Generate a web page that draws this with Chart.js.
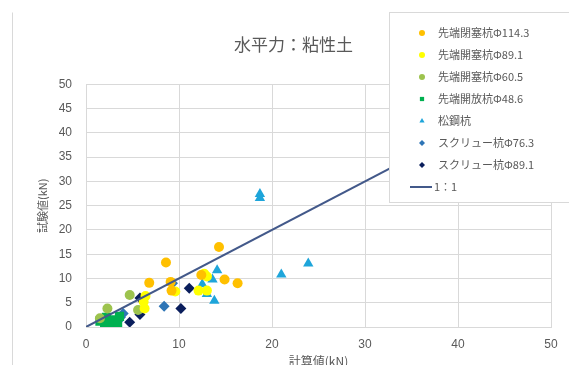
<!DOCTYPE html>
<html>
<head>
<meta charset="utf-8">
<script src="https://cdn.jsdelivr.net/npm/chart.js@4/dist/chart.umd.min.js"></script>
<style>
  html, body { margin: 0; padding: 0; background: #ffffff; }
  #wrap { position: relative; width: 569px; height: 365px; }
</style>
</head>
<body>
<div id="wrap"><canvas id="c" width="569" height="365"></canvas></div>
<script>
// Horizontal load on cohesive soil: calculated vs. measured capacity (kN)
const chartTitle = '水平力：粘性土';
const xTitle = '計算値(kN)';
const yTitle = '試験値(kN)';

const seriesNames = [
  '先端閉塞杭Φ114.3',
  '先端開塞杭Φ89.1',
  '先端開塞杭Φ60.5',
  '先端開放杭Φ48.6',
  '松鋼杭',
  'スクリュー杭Φ76.3',
  'スクリュー杭Φ89.1'
];
const lineName = '1：1';

const closed114X = [14.3, 8.6, 6.8, 16.3, 14.9, 12.4, 9.1, 9.2];
const closed114Y = [16.5, 13.3, 9.1, 9.0, 9.8, 10.7, 9.3, 7.5];

const open89X = [13.0, 12.7, 12.1, 13.0, 9.6, 6.2, 6.3, 6.4];
const open89Y = [10.4, 11.0, 7.5, 7.5, 7.3, 5.2, 3.8, 6.4];

const open60X = [4.7, 2.3, 5.6, 1.5];
const open60Y = [6.6, 3.8, 3.5, 1.8];

const open48X = [1.5, 2.0, 2.2, 2.7, 3.0, 3.4, 3.6, 1.9];
const open48Y = [1.2, 0.8, 2.0, 0.7, 1.5, 0.6, 2.2, 1.5];

const steelX = [14.1, 13.6, 12.5, 13.0, 13.8, 18.7, 18.7, 21.0, 23.9];
const steelY = [11.7, 9.8, 8.8, 6.8, 5.4, 27.4, 26.6, 10.8, 13.1];

const screw76X = [8.4, 9.3, 3.7, 3.5, 4.0];
const screw76Y = [4.3, 9.0, 2.0, 1.4, 2.8];

const screw89X = [11.1, 10.2, 5.8, 5.8, 4.7];
const screw89Y = [8.0, 3.8, 6.0, 2.6, 1.0];

const refLineX = [0, 50];
const refLineY = [0, 50];

const xTicks = [0, 10, 20, 30, 40, 50];
const yTicks = [0, 5, 10, 15, 20, 25, 30, 35, 40, 45, 50];

const pairs = (xs, ys) => xs.map((x, i) => ({ x: x, y: ys[i] }));

const markerDefs = [
  { xs: closed114X, ys: closed114Y, color: '#FFC000', shape: 'circle', r: 5 },
  { xs: open89X, ys: open89Y, color: '#FFFF00', shape: 'circle', r: 5 },
  { xs: open60X, ys: open60Y, color: '#9DC34E', shape: 'circle', r: 5 },
  { xs: open48X, ys: open48Y, color: '#00B050', shape: 'rect', r: 6.5 },
  { xs: steelX, ys: steelY, color: '#1EA5DA', shape: 'triangle', r: 6 },
  { xs: screw76X, ys: screw76Y, color: '#2E75B6', shape: 'rectRot', r: 5.5 },
  { xs: screw89X, ys: screw89Y, color: '#0A1E5C', shape: 'rectRot', r: 5.5 }
];

const datasets = markerDefs.map((d, i) => ({
  type: 'scatter',
  label: seriesNames[i],
  data: pairs(d.xs, d.ys),
  pointStyle: d.shape,
  pointRadius: d.r,
  backgroundColor: d.color,
  borderColor: d.color,
  borderWidth: 0,
  order: 2
}));

datasets.push({
  type: 'line',
  label: lineName,
  data: pairs(refLineX, refLineY),
  borderColor: '#43598A',
  borderWidth: 2,
  pointRadius: 0,
  fill: false,
  order: 1
});

// Boxed legend drawn over the upper-right corner of the plot
const boxLegend = {
  id: 'boxLegend',
  afterDraw(chart) {
    const ctx = chart.ctx;
    const bx = 389, by = 12, bw = 200, bh = 190;
    ctx.save();
    ctx.fillStyle = '#ffffff';
    ctx.fillRect(bx, by, bw, bh);
    ctx.strokeStyle = '#D9D9D9';
    ctx.lineWidth = 1;
    ctx.strokeRect(bx + 0.5, by + 0.5, bw, bh);
    ctx.font = '11px "Noto Sans CJK JP", "Liberation Sans", sans-serif';
    ctx.textBaseline = 'middle';
    ctx.textAlign = 'left';
    const rowY0 = 33, rowStep = 22;
    chart.data.datasets.forEach((ds, i) => {
      const y = rowY0 + i * rowStep;
      if (ds.type === 'line') {
        ctx.strokeStyle = ds.borderColor;
        ctx.lineWidth = 2;
        ctx.beginPath();
        ctx.moveTo(410, y);
        ctx.lineTo(432, y);
        ctx.stroke();
        ctx.fillStyle = '#595959';
        ctx.fillText(ds.label, 434, y);
      } else {
        ctx.save();
        ctx.fillStyle = ds.backgroundColor;
        ctx.strokeStyle = ds.backgroundColor;
        Chart.helpers.drawPoint(ctx, { pointStyle: ds.pointStyle, radius: 3, rotation: 0, borderWidth: 0 }, 422, y);
        ctx.restore();
        ctx.fillStyle = '#595959';
        ctx.fillText(ds.label, 438, y);
      }
    });
    ctx.restore();
  }
};

// Thin outer frame of the chart
const outerFrame = {
  id: 'outerFrame',
  beforeDraw(chart) {
    const ctx = chart.ctx;
    ctx.save();
    ctx.fillStyle = '#ffffff';
    ctx.fillRect(0, 0, chart.width, chart.height);
    ctx.strokeStyle = '#D9D9D9';
    ctx.lineWidth = 1;
    ctx.beginPath();
    ctx.moveTo(12.5, 365);
    ctx.lineTo(12.5, 12.5);
    ctx.stroke();
    ctx.restore();
  }
};

const tickFont = { family: '"Liberation Sans", "Noto Sans", sans-serif', size: 12 };

new Chart(document.getElementById('c'), {
  data: { datasets: datasets },
  plugins: [outerFrame, boxLegend],
  options: {
    responsive: false,
    animation: false,
    layout: { padding: { left: 36, right: 18, top: 0, bottom: 0 } },
    plugins: {
      legend: { display: false },
      tooltip: { enabled: false },
      title: {
        display: true,
        text: chartTitle,
        color: '#595959',
        font: { family: '"Noto Sans CJK JP", sans-serif', size: 17, weight: 'normal' },
        padding: { top: 34, bottom: 30 }
      }
    },
    scales: {
      x: {
        type: 'linear',
        min: 0, max: 50,
        afterBuildTicks(axis) { axis.ticks = xTicks.map(v => ({ value: v })); },
        afterFit(axis) { axis.height = 38; },
        grid: { color: '#D9D9D9', drawTicks: false },
        border: { color: '#D9D9D9' },
        ticks: { color: '#595959', font: tickFont, padding: 10 },
        title: {
          display: true, text: xTitle, color: '#595959',
          font: { family: '"Noto Sans CJK JP", sans-serif', size: 12 },
          padding: { top: 0, bottom: -4 }
        }
      },
      y: {
        type: 'linear',
        min: 0, max: 50,
        afterBuildTicks(axis) { axis.ticks = yTicks.map(v => ({ value: v })); },
        afterFit(axis) { axis.width = 50; },
        grid: { color: '#D9D9D9', drawTicks: false },
        border: { color: '#D9D9D9' },
        ticks: { color: '#595959', font: tickFont, padding: 14 },
        title: {
          display: true, text: yTitle, color: '#595959',
          font: { family: '"Noto Sans CJK JP", sans-serif', size: 11 },
          padding: { top: 0, bottom: 0 }
        }
      }
    }
  }
});
</script>
</body>
</html>
